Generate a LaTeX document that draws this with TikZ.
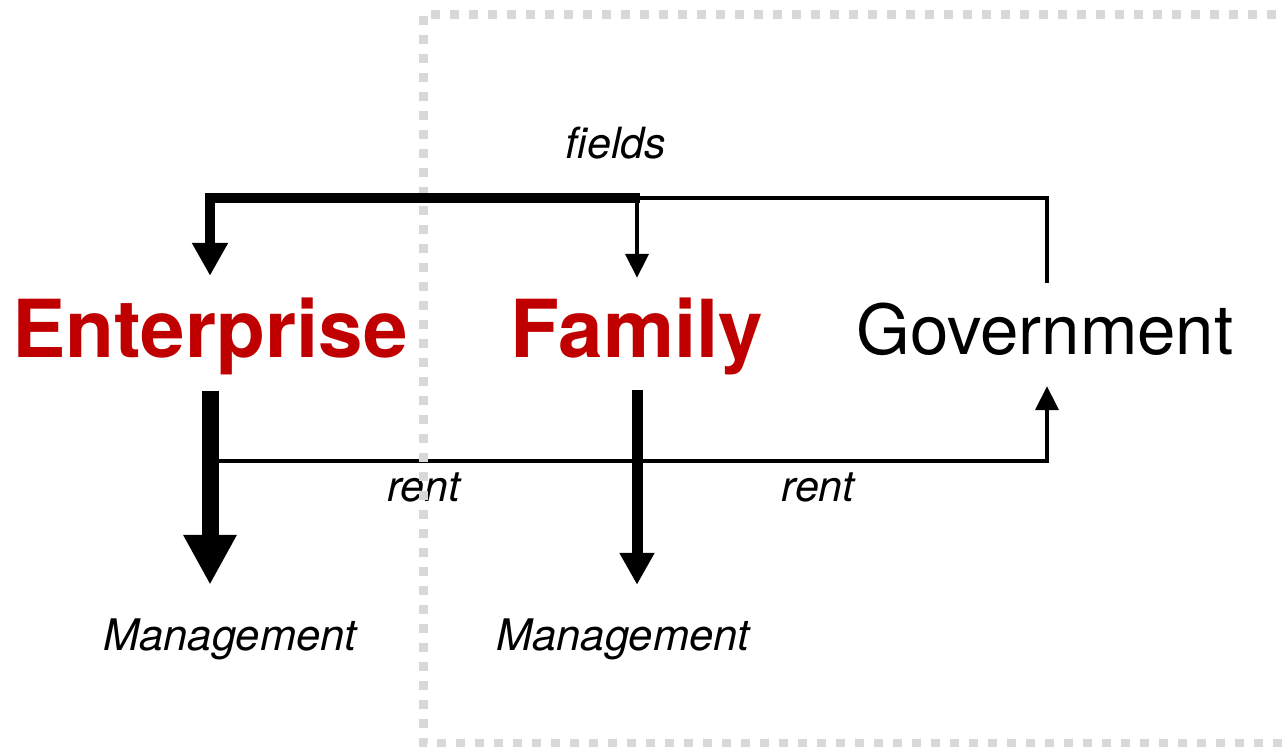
\documentclass[tikz,border=0pt]{standalone}
\usepackage{fontspec}
\setmainfont{TeX Gyre Heros}
\usetikzlibrary{arrows.meta}
\definecolor{bigred}{HTML}{C00000}
\definecolor{dotgray}{HTML}{D8D8D8}
\begin{document}
\begin{tikzpicture}[x=1pt,y=-1pt,
  actor/.style={anchor=base,inner xsep=0pt,font=\bfseries\fontsize{80}{82}\selectfont,text=bigred,text height=56pt},
  govstyle/.style={anchor=base,inner xsep=0pt,font=\fontsize{69}{72}\selectfont,text height=48pt,text depth=9pt,inner ysep=23pt},
  lbl/.style={anchor=base,inner sep=0pt,font=\itshape\fontsize{43}{45}\selectfont},
  mgmt/.style={anchor=base,inner xsep=0pt,font=\itshape\fontsize{43.5}{45}\selectfont,text height=30pt,text depth=9pt,inner ysep=35pt},
  thinline/.style={line width=4pt,line cap=butt},
  dotbox/.style={draw=dotgray,line width=9pt,dash pattern=on 9pt off 10pt}
]
\useasboundingbox (0,0) rectangle (1286,747);
% nodes
\node[actor,text depth=9pt,inner ysep=25pt] (Ent) at (210,357) {Enterprise};
\node[actor,text depth=10pt,inner ysep=23pt] (Fam) at (637,357) {Family};
\node[govstyle] (Gov) at (1045,354) {Government};
\node[mgmt] (M1) at (230,650) {Management};
\node[mgmt] (M2) at (623,650) {Management};
\node[lbl] (fields) at (616,158) {fields};
\node[lbl] (rent1) at (424,501) {rent};
\node[lbl] (rent2) at (818,501) {rent};
\coordinate (topbar) at (0,198);
\coordinate (rentbar) at (0,461);
\coordinate (govx) at (1047,0);
% rent connector (below the dotted frame)
\draw[thinline,-{Triangle[width=23pt,length=24pt]}] (Ent.south |- rentbar) -| (Gov.south -| govx);
% dotted frame
\draw[dotbox] (1295,14) -- (423,14) -- (423,743) -- (1295,743);
% fields connectors
\draw[thinline,-{Triangle[width=23pt,length=24pt]}] (Gov.north -| govx) |- (Fam.north |- topbar) -- (Fam.north);
\draw[line width=10pt,line cap=butt,-{Triangle[width=34pt,length=33pt]}] ([xshift=3pt]Fam.north |- topbar) -| (Ent.north);
% management arrows
\draw[line width=17pt,-{Triangle[width=50pt,length=50pt]}] (Ent.south) -- (Ent.south |- M1.north);
\draw[line width=11pt,-{Triangle[width=33pt,length=32pt]}] (Fam.south) -- (Fam.south |- M2.north);
\end{tikzpicture}
\end{document}
